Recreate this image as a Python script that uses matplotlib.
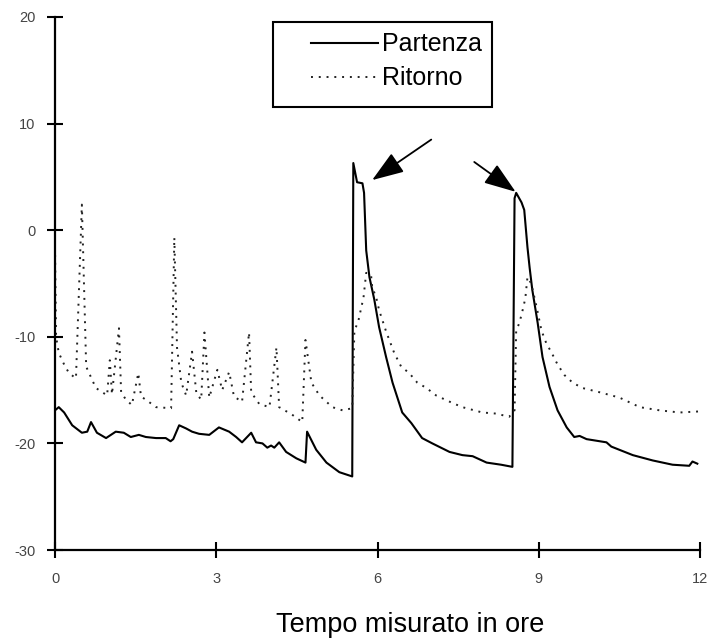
import matplotlib
matplotlib.use("Agg")
import matplotlib.pyplot as plt
from matplotlib.patches import Rectangle

# ---- data ----
partenza_x = [0.0, 0.07, 0.17, 0.32, 0.5, 0.6, 0.67, 0.78, 0.95, 1.13,
              1.28, 1.41, 1.56, 1.69, 1.88, 2.06, 2.15, 2.2, 2.31, 2.44,
              2.55, 2.68, 2.87, 3.05, 3.24, 3.37, 3.48, 3.65, 3.74, 3.86,
              3.95, 4.02, 4.08, 4.17, 4.3, 4.49, 4.66, 4.69, 4.86, 5.05,
              5.29, 5.53, 5.55, 5.62, 5.72, 5.75, 5.79, 5.85, 5.94, 6.03,
              6.16, 6.28, 6.46, 6.63, 6.83, 7.02, 7.34, 7.58, 7.77, 8.03,
              8.3, 8.51, 8.55, 8.58, 8.68, 8.73, 8.79, 8.83, 8.88, 8.98,
              9.07, 9.2, 9.35, 9.52, 9.66, 9.76, 9.89, 10.26, 10.35, 10.75,
              11.12, 11.49, 11.8, 11.86, 11.95]
partenza_y = [-16.9, -16.6, -17.1, -18.3, -19.0, -18.9, -18.0, -19.0, -19.5, -18.9,
              -19.0, -19.4, -19.2, -19.4, -19.5, -19.5, -19.8, -19.6, -18.3, -18.6,
              -18.9, -19.1, -19.2, -18.5, -18.9, -19.4, -19.9, -19.0, -19.9, -20.0,
              -20.4, -20.2, -20.4, -19.9, -20.8, -21.4, -21.8, -18.9, -20.6, -21.8,
              -22.7, -23.1, 6.3, 4.5, 4.4, 3.5, -1.9, -4.4, -6.5, -9.1,
              -11.9, -14.3, -17.1, -18.1, -19.5, -20.0, -20.8, -21.1, -21.2, -21.8,
              -22.0, -22.2, 3.0, 3.5, 2.6, 1.9, -1.6, -3.5, -5.6, -8.7,
              -11.9, -14.7, -16.9, -18.5, -19.4, -19.3, -19.6, -19.9, -20.3, -21.1,
              -21.6, -22.0, -22.1, -21.7, -21.9]

ritorno_x = [0.0, 0.02, 0.07, 0.17, 0.26, 0.39, 0.5, 0.58, 0.76, 0.97,
             1.02, 1.06, 1.19, 1.23, 1.32, 1.43, 1.55, 1.6, 1.69, 1.88,
             2.16, 2.22, 2.27, 2.35, 2.44, 2.55, 2.63, 2.72, 2.78, 2.87,
             3.02, 3.11, 3.24, 3.33, 3.48, 3.61, 3.65, 3.8, 3.99, 4.12,
             4.17, 4.41, 4.6, 4.66, 4.77, 4.92, 5.16, 5.35, 5.53, 5.57,
             5.64, 5.74, 5.79, 5.88, 5.9, 5.98, 6.03, 6.16, 6.31, 6.44,
             6.59, 6.74, 6.91, 7.09, 7.39, 7.58, 7.95, 8.2, 8.45, 8.55,
             8.58, 8.64, 8.7, 8.75, 8.79, 8.86, 8.96, 9.05, 9.14, 9.24,
             9.35, 9.48, 9.63, 9.81, 10.13, 10.5, 10.88, 11.25, 11.62, 11.99]
ritorno_y = [-1.6, -10.0, -11.5, -12.6, -13.4, -13.9, 2.4, -12.8, -14.8, -15.5,
             -12.2, -15.4, -9.2, -15.2, -15.9, -16.4, -13.4, -15.6, -15.9, -16.6,
             -16.7, -0.7, -11.0, -14.3, -15.5, -11.4, -15.3, -15.9, -9.6, -15.7,
             -13.1, -15.0, -13.3, -15.6, -16.1, -9.6, -15.2, -16.3, -16.6, -11.0,
             -16.6, -17.3, -18.0, -10.3, -14.3, -15.5, -16.6, -16.9, -16.7, -9.4,
             -8.6, -6.3, -4.0, -4.2, -5.3, -6.4, -7.5, -9.5, -11.5, -12.8,
             -13.4, -14.3, -14.8, -15.5, -16.2, -16.6, -17.1, -17.2, -17.5, -16.9,
             -9.4, -8.7, -7.5, -6.4, -4.4, -5.0, -7.2, -9.4, -10.6, -11.5,
             -12.6, -13.6, -14.3, -14.8, -15.2, -15.7, -16.6, -16.9, -17.1, -17.0]

x_ticks = [0, 3, 6, 9, 12]
y_ticks = [-30, -20, -10, 0, 10, 20]
series_labels = ["Partenza", "Ritorno"]
x_label = "Tempo misurato in ore"
# arrows: tips and tails in data coordinates
arrow_tips = [(5.9, 4.7), (8.57, 3.6)]
arrow_tails = [(7.0, 8.5), (7.8, 6.4)]

plt.rcParams['font.family'] = ['Liberation Sans', 'DejaVu Sans']

fig = plt.figure(figsize=(7.11, 6.41), dpi=100)
ax = fig.add_axes([55/711, 91/641, 645/711, 533/641])

ax.plot(partenza_x, partenza_y, color='black', lw=1.5, label=series_labels[0])
ax.plot(ritorno_x, ritorno_y, color='#222222', lw=1.4, linestyle=(0, (1, 3)),
        label=series_labels[1])

for (tx, ty), (sx, sy) in zip(arrow_tips, arrow_tails):
    ax.annotate("", xy=(tx, ty), xytext=(sx, sy),
                arrowprops=dict(arrowstyle='-|>,head_length=1.4,head_width=0.5',
                                color='black', lw=1.3, mutation_scale=14,
                                shrinkA=0, shrinkB=0))

ax.set_xlim(0, 12)
ax.set_ylim(-30, 20)
ax.set_xticks(x_ticks)
ax.set_yticks(y_ticks)
ax.set_xticklabels([str(v) for v in x_ticks])
ax.set_yticklabels([str(v) for v in y_ticks])

for s in ['top', 'right']:
    ax.spines[s].set_visible(False)
for s in ['left', 'bottom']:
    ax.spines[s].set_linewidth(1.6)
ax.tick_params(axis='both', direction='inout', length=12, width=1.5,
               labelsize=10.5, labelcolor='#444444')
ax.tick_params(axis='x', pad=10)
ax.tick_params(axis='y', pad=8)

# legend box (frame drawn separately for extra left padding)
ax.add_patch(Rectangle((0.338, 0.831), 0.3395, 0.1596, transform=ax.transAxes,
                       fill=True, facecolor='white', edgecolor='black',
                       lw=1.5, zorder=4, clip_on=False))
leg = ax.legend(loc='upper left', bbox_to_anchor=(0.385, 0.985), borderaxespad=0,
                frameon=False, fontsize=18, handlelength=2.7,
                handletextpad=0.15, borderpad=0.3, labelspacing=0.4)
leg.set_zorder(5)

fig.text(410/711, 1 - 625/641, x_label, ha='center', va='center', fontsize=19.5)

fig.savefig("out.png", dpi=100)
